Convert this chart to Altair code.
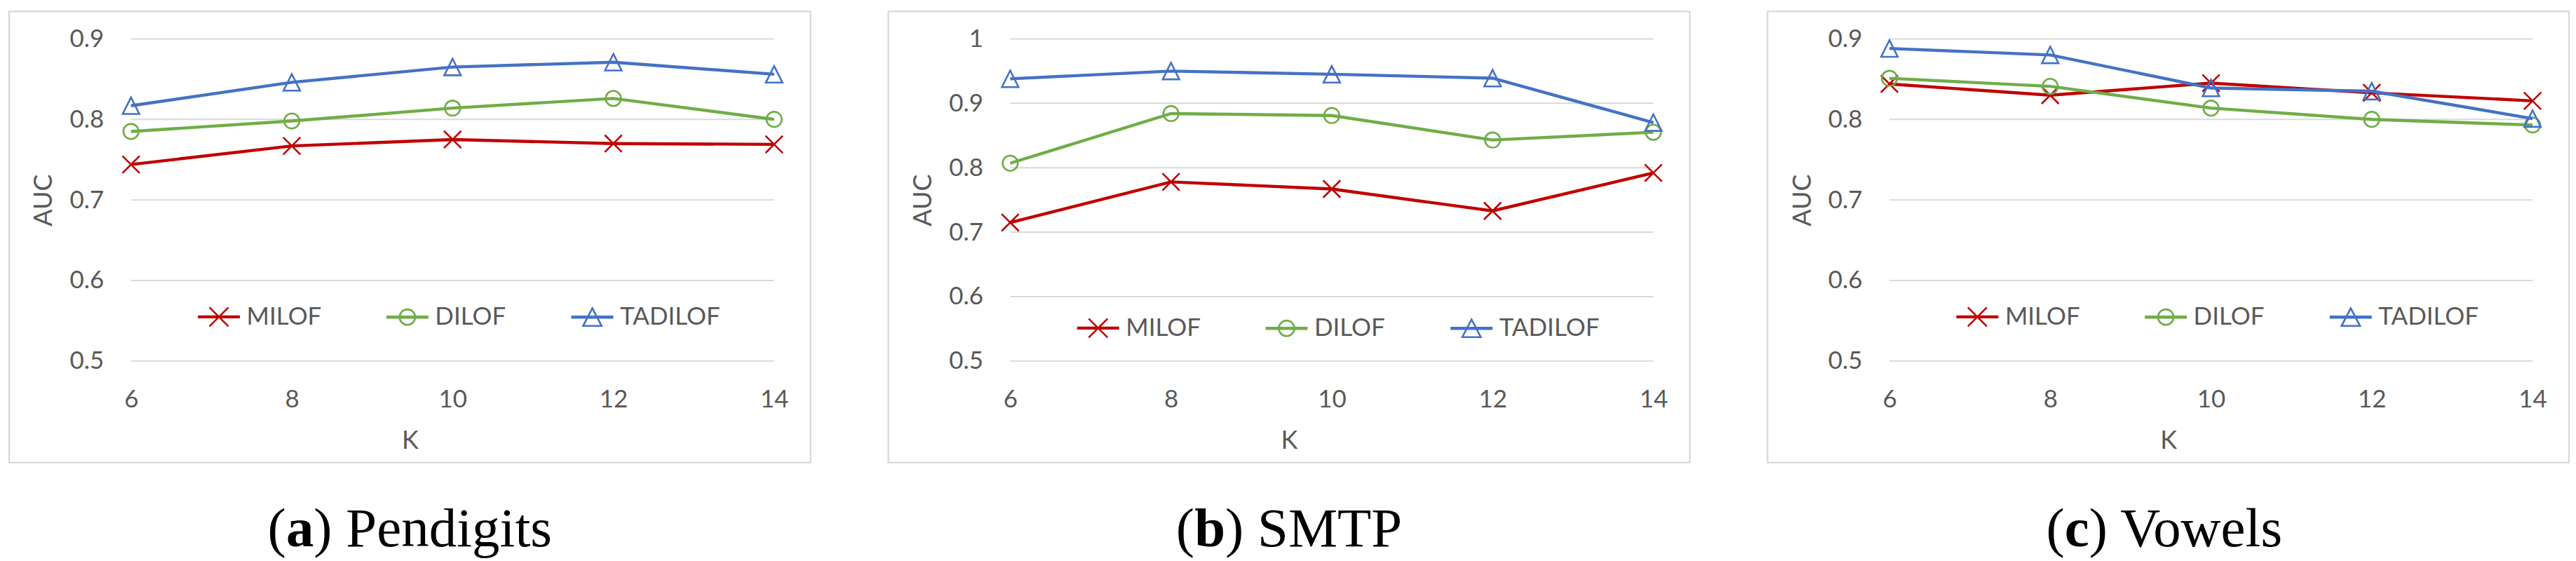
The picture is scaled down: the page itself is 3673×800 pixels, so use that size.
import altair as alt
import pandas as pd

# ---------------- data ----------------
K = [6, 8, 10, 12, 14]
SERIES = ["MILOF", "DILOF", "TADILOF"]
COLORS = ["#C00000", "#70AD47", "#4472C4"]

pend_milof = [0.744, 0.767, 0.775, 0.770, 0.769]
pend_dilof = [0.785, 0.798, 0.814, 0.826, 0.800]
pend_tadilof = [0.817, 0.846, 0.865, 0.871, 0.856]

smtp_milof = [0.715, 0.778, 0.767, 0.733, 0.792]
smtp_dilof = [0.807, 0.884, 0.881, 0.843, 0.855]
smtp_tadilof = [0.938, 0.950, 0.945, 0.939, 0.870]

vow_milof = [0.844, 0.830, 0.845, 0.833, 0.823]
vow_dilof = [0.851, 0.841, 0.814, 0.800, 0.793]
vow_tadilof = [0.888, 0.880, 0.839, 0.835, 0.801]

Y_TICKS_09 = [0.5, 0.6, 0.7, 0.8, 0.9]
Y_TICKS_10 = [0.5, 0.6, 0.7, 0.8, 0.9, 1.0]

CAP_LETTERS = ["a", "b", "c"]
CAP_NAMES = ["Pendigits", "SMTP", "Vowels"]

# ---------------- style ----------------
W, H = 1144, 644
TXT = "#595959"
GRID = "#D9D9D9"
SANS = "Lato"
SERIF = "Liberation Serif"
XDOM = [4.4837, 14.4532]
YDOM_09 = [0.37391, 0.93391]
YDOM_10 = [0.34239, 1.04239]

# marker paths (chart) and legend paths (line + marker)
MARK_X = "M-1,-1L1,1M-1,1L1,-1"
MARK_TRI = "M0,-1L1,1L-1,1Z"
LINE2 = "M-1,-0.03H1M-1,0.03H1"
LEG_PATHS = [
    LINE2 + "M-0.45,-0.45L0.45,0.45M-0.45,0.45L0.45,-0.45",
    LINE2 + "M0.37,0A0.37,0.37,0,1,1,-0.37,0A0.37,0.37,0,1,1,0.37,0",
    LINE2 + "M0,-0.42L0.44,0.42L-0.44,0.42Z",
]

# Times (Liberation Serif) advance widths, em units
TW = {"(": 0.333, ")": 0.333, " ": 0.25, "P": 0.556, "e": 0.444, "n": 0.5,
      "d": 0.5, "i": 0.278, "g": 0.5, "t": 0.278, "s": 0.389, "S": 0.556,
      "M": 0.889, "T": 0.611, "V": 0.722, "o": 0.5, "w": 0.722, "l": 0.278}
TWB = {"a": 0.5, "b": 0.556, "c": 0.444}
CAP_FS = 79


def panel(milof, dilof, tadilof, yticks, ydom, letter, name, leg_y):
    df = pd.DataFrame({
        "K": K * 3,
        "AUC": milof + dilof + tadilof,
        "Series": [s for s in SERIES for _ in K],
    })
    grid = pd.DataFrame({"AUC": yticks, "K": [K[0]] * len(yticks), "K2": [K[-1]] * len(yticks)})

    xs = alt.Scale(domain=XDOM, nice=False, zero=False)
    ys = alt.Scale(domain=ydom, nice=False, zero=False)
    xax = alt.Axis(values=K, format="d", grid=False, domain=False, ticks=False, tickSize=0,
                   labelPadding=0, offset=-90, labelBaseline="middle", labelFont=SANS,
                   labelFontSize=35, labelColor=TXT, title="K", titleFont=SANS,
                   titleFontSize=36, titleFontWeight="normal", titleColor=TXT,
                   titleY=59, titleBaseline="middle", labelFlush=False, labelOverlap=False)
    yax = alt.Axis(values=yticks, format="~g", grid=False, domain=False, ticks=False, tickSize=0,
                   labelPadding=0, offset=-135, labelFont=SANS, labelFontSize=35,
                   labelColor=TXT, title="AUC", titleFont=SANS, titleFontSize=36,
                   titleFontWeight="normal", titleColor=TXT, titleX=-85, titleY=269,
                   titleAngle=-90, titleAlign="center", titleBaseline="middle",
                   labelFlush=False, labelOverlap=False)
    X = alt.X("K:Q", scale=xs, axis=xax)
    Y = alt.Y("AUC:Q", scale=ys, axis=yax)

    layers = [alt.Chart(grid).mark_rule(color=GRID, strokeWidth=2).encode(x=X, x2="K2:Q", y=Y)]
    shapes = [MARK_X, "circle", MARK_TRI]
    sizes = [600, 470, 560]
    for s, c, shp, sz in zip(SERIES, COLORS, shapes, sizes):
        base = alt.Chart(df).transform_filter(alt.datum.Series == s)
        layers.append(base.mark_line(color=c, strokeWidth=4.4).encode(x=X, y=Y, order="K:Q"))
        layers.append(base.mark_point(shape=shp, filled=False, color=c, size=sz,
                                      strokeWidth=2.6, opacity=1).encode(x=X, y=Y))

    leg = alt.Legend(orient="none", legendX=268, legendY=leg_y, direction="horizontal",
                     columns=3, title=None, labelFont=SANS, labelFontSize=35,
                     labelColor=TXT, labelOffset=8, columnPadding=87, symbolSize=3600,
                     symbolStrokeWidth=2.6, symbolOpacity=1, padding=0)
    layers.append(alt.Chart(df).transform_filter("false").mark_point(filled=False, opacity=1).encode(
        x=X, y=Y,
        color=alt.Color("Series:N", scale=alt.Scale(domain=SERIES, range=COLORS), legend=leg),
        shape=alt.Shape("Series:N", scale=alt.Scale(domain=SERIES, range=LEG_PATHS), legend=leg),
    ))

    # caption "(x) Name" with bold letter
    w_open = TW["("] * CAP_FS
    w_let = TWB[letter] * CAP_FS
    rest = ") " + name
    w_rest = sum(TW[c] for c in rest) * CAP_FS
    start = W / 2 - (w_open + w_let + w_rest) / 2
    for txt, x0, wt in [("(", start, "normal"), (letter, start + w_open, "bold"),
                        (rest, start + w_open + w_let, "normal")]:
        layers.append(alt.Chart(pd.DataFrame({"t": [txt]})).mark_text(
            align="left", baseline="alphabetic", font=SERIF, fontSize=CAP_FS,
            fontWeight=wt, color="black").encode(
            text="t:N", x=alt.value(x0), y=alt.value(763)))

    return alt.layer(*layers).properties(width=W, height=H)


pa = panel(pend_milof, pend_dilof, pend_tadilof, Y_TICKS_09, YDOM_09, CAP_LETTERS[0], CAP_NAMES[0], 404)
pb = panel(smtp_milof, smtp_dilof, smtp_tadilof, Y_TICKS_10, YDOM_10, CAP_LETTERS[1], CAP_NAMES[1], 420)
pc = panel(vow_milof, vow_dilof, vow_tadilof, Y_TICKS_09, YDOM_09, CAP_LETTERS[2], CAP_NAMES[2], 404)

chart = alt.hconcat(pa, pb, pc, spacing=107).resolve_scale(
    color="independent", shape="independent", x="independent", y="independent"
).resolve_legend(color="independent", shape="independent").configure_view(
    stroke=GRID, strokeWidth=2.3
).properties(
    padding={"left": 3, "top": 6, "right": 0, "bottom": 0}, background="white"
)

chart.save("out.html", embed_options={"renderer": "svg", "actions": False})
